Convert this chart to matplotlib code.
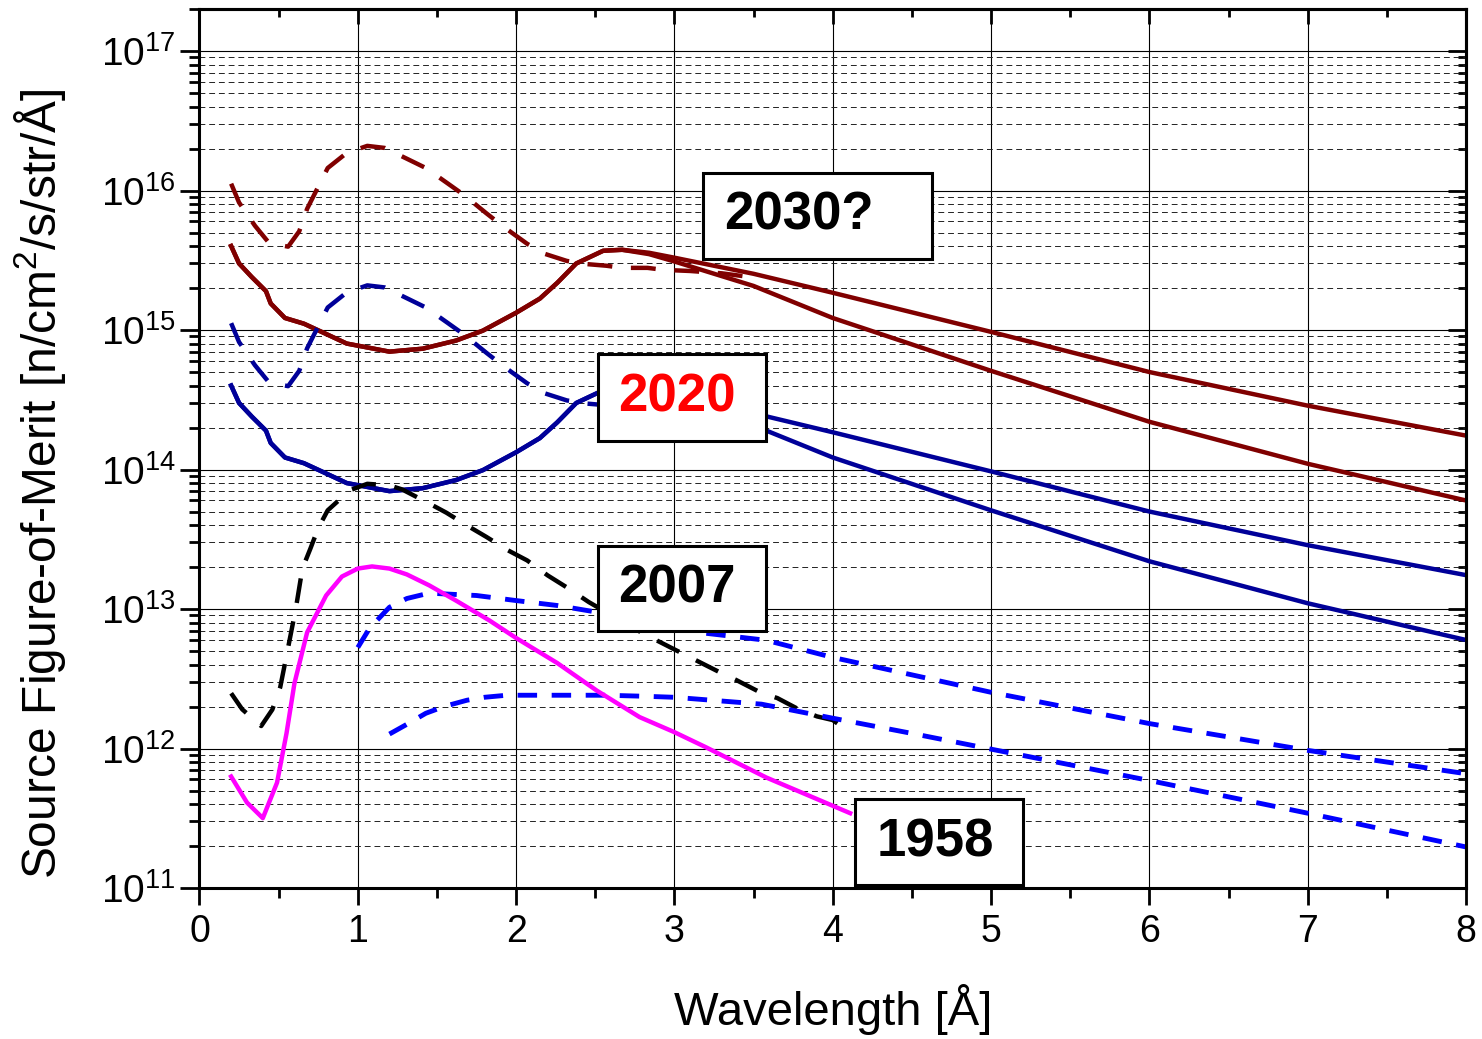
import numpy as np
import matplotlib
matplotlib.use("Agg")
import matplotlib.pyplot as plt
from matplotlib.patches import Rectangle
from matplotlib.ticker import LogLocator, LogFormatterMathtext, MultipleLocator, NullFormatter

plt.rcParams['font.family'] = ['Liberation Sans', 'DejaVu Sans']
plt.rcParams['mathtext.default'] = 'regular'

# --- 2030? : two solid moderator curves sharing the short-wavelength part, plus dashed cold peak
x_2030_up = [0.2, 0.25, 0.33, 0.42, 0.45, 0.54, 0.66, 0.78, 0.93, 1.2, 1.41, 1.62, 1.79, 2.0, 2.15,
             2.26, 2.38, 2.55, 2.67, 2.84, 3.0, 3.5, 4.0, 5.0, 6.0, 7.0, 8.0]
y_2030_up = [4.0e15, 3.0e15, 2.4e15, 1.9e15, 1.55e15, 1.22e15, 1.11e15, 9.6e14, 8.0e14, 7.0e14, 7.35e14,
             8.4e14, 9.9e14, 1.33e15, 1.68e15, 2.18e15, 3.0e15, 3.7e15, 3.76e15, 3.58e15, 3.3e15,
             2.53e15, 1.85e15, 9.7e14, 5.0e14, 2.87e14, 1.75e14]
x_2030_lo = [0.2, 0.25, 0.33, 0.42, 0.45, 0.54, 0.66, 0.78, 0.93, 1.2, 1.41, 1.62, 1.79, 2.0, 2.15,
             2.26, 2.38, 2.55, 2.67, 2.84, 3.0, 3.5, 4.0, 5.0, 6.0, 7.0, 8.0]
y_2030_lo = [4.0e15, 3.0e15, 2.4e15, 1.9e15, 1.55e15, 1.22e15, 1.11e15, 9.6e14, 8.0e14, 7.0e14, 7.35e14,
             8.4e14, 9.9e14, 1.33e15, 1.68e15, 2.18e15, 3.0e15, 3.7e15, 3.76e15, 3.5e15, 3.1e15,
             2.07e15, 1.22e15, 5.1e14, 2.2e14, 1.1e14, 6.0e13]
x_2030_cold = [0.2, 0.25, 0.35, 0.44, 0.56, 0.63, 0.68, 0.74, 0.81, 0.93, 1.06, 1.17, 1.31, 1.43, 1.57,
               1.67, 1.81, 1.93, 2.07, 2.18, 2.32, 2.43, 2.57, 2.67, 2.83, 2.93, 3.1, 3.3, 3.45]
y_2030_cold = [1.12e16, 8.2e15, 5.6e15, 4.2e15, 3.96e15, 5.1e15, 7.4e15, 1.01e16, 1.45e16, 1.86e16,
               2.09e16, 2.02e16, 1.69e16, 1.45e16, 1.12e16, 9.3e15, 6.9e15, 5.4e15, 4.15e15, 3.52e15,
               3.13e15, 2.98e15, 2.89e15, 2.79e15, 2.79e15, 2.7e15, 2.65e15, 2.55e15, 2.42e15]

# --- 2020
x_2020_up = [0.2, 0.25, 0.33, 0.42, 0.45, 0.54, 0.66, 0.78, 0.93, 1.2, 1.41, 1.62, 1.79, 2.0, 2.15,
             2.26, 2.38, 2.55, 2.67, 2.84, 3.0, 3.5, 4.0, 5.0, 6.0, 7.0, 8.0]
y_2020_up = [4.0e14, 3.0e14, 2.4e14, 1.9e14, 1.55e14, 1.22e14, 1.11e14, 9.6e13, 8.0e13, 7.0e13, 7.35e13,
             8.4e13, 9.9e13, 1.33e14, 1.68e14, 2.18e14, 3.0e14, 3.7e14, 3.76e14, 3.58e14, 3.3e14,
             2.53e14, 1.85e14, 9.7e13, 5.0e13, 2.87e13, 1.75e13]
x_2020_lo = [0.2, 0.25, 0.33, 0.42, 0.45, 0.54, 0.66, 0.78, 0.93, 1.2, 1.41, 1.62, 1.79, 2.0, 2.15,
             2.26, 2.38, 2.55, 2.67, 2.84, 3.0, 3.5, 4.0, 5.0, 6.0, 7.0, 8.0]
y_2020_lo = [4.0e14, 3.0e14, 2.4e14, 1.9e14, 1.55e14, 1.22e14, 1.11e14, 9.6e13, 8.0e13, 7.0e13, 7.35e13,
             8.4e13, 9.9e13, 1.33e14, 1.68e14, 2.18e14, 3.0e14, 3.7e14, 3.76e14, 3.5e14, 3.1e14,
             2.07e14, 1.22e14, 5.1e13, 2.2e13, 1.1e13, 6.0e12]
x_2020_cold = [0.2, 0.25, 0.35, 0.44, 0.56, 0.63, 0.68, 0.74, 0.81, 0.93, 1.06, 1.17, 1.31, 1.43, 1.57,
               1.67, 1.81, 1.93, 2.07, 2.18, 2.32, 2.43, 2.57, 2.67, 2.83, 2.93, 3.1, 3.3, 3.45]
y_2020_cold = [1.12e15, 8.2e14, 5.6e14, 4.2e14, 3.96e14, 5.1e14, 7.4e14, 1.01e15, 1.45e15, 1.86e15,
               2.09e15, 2.02e15, 1.69e15, 1.45e15, 1.12e15, 9.3e14, 6.9e14, 5.4e14, 4.15e14, 3.52e14,
               3.13e14, 2.98e14, 2.89e14, 2.79e14, 2.79e14, 2.7e14, 2.65e14, 2.55e14, 2.42e14]

# --- 2007
x_2007_cold = [0.2, 0.27, 0.39, 0.46, 0.51, 0.56, 0.61, 0.65, 0.70, 0.75, 0.81, 0.95, 1.06, 1.2, 1.28,
               1.44, 1.56, 1.69, 1.81, 1.95, 2.07, 2.2, 2.32, 2.46, 2.8, 3.02, 3.14, 3.28, 3.39, 3.55,
               3.65, 3.77, 3.9, 4.0, 4.11]
y_2007_cold = [2.49e12, 1.91e12, 1.45e12, 1.9e12, 2.75e12, 5.3e12, 1.03e13, 1.95e13, 2.7e13, 3.8e13,
               5.1e13, 7.1e13, 7.9e13, 7.7e13, 7.2e13, 5.8e13, 4.9e13, 3.97e13, 3.3e13, 2.63e13, 2.23e13,
               1.74e13, 1.43e13, 1.12e13, 6.7e12, 5.0e12, 4.27e12, 3.55e12, 3.1e12, 2.5e12, 2.3e12,
               1.95e12, 1.7e12, 1.6e12, 1.3e12]
x_2007_a = [1.0, 1.075, 1.2, 1.31, 1.45, 1.75, 2.0, 2.26, 2.51, 3.2, 3.58, 4.0, 5.0, 6.0, 7.0, 8.0]
y_2007_a = [5.3e12, 7.3e12, 1.03e13, 1.19e13, 1.3e13, 1.25e13, 1.15e13, 1.06e13, 9.5e12, 6.7e12, 5.97e12,
            4.5e12, 2.53e12, 1.51e12, 9.7e11, 6.6e11]
x_2007_b = [1.2, 1.3, 1.43, 1.55, 1.69, 1.8, 1.94, 2.07, 2.57, 2.81, 3.0, 3.55, 4.0, 4.49, 5.0, 6.0,
            7.0, 8.0]
y_2007_b = [1.27e12, 1.47e12, 1.79e12, 2.01e12, 2.22e12, 2.33e12, 2.41e12, 2.41e12, 2.41e12, 2.37e12,
            2.33e12, 2.08e12, 1.65e12, 1.29e12, 9.9e11, 5.9e11, 3.44e11, 1.97e11]

# --- 1958
x_1958 = [0.2, 0.3, 0.4, 0.49, 0.55, 0.6, 0.68, 0.8, 0.9, 1.0, 1.09, 1.2, 1.31, 1.45, 1.62, 1.83, 2.0,
          2.26, 2.51, 2.78, 3.0, 3.2, 3.58, 4.11]
y_1958 = [6.3e11, 4.1e11, 3.17e11, 5.7e11, 1.29e12, 2.94e12, 6.8e12, 1.25e13, 1.71e13, 1.95e13, 2.02e13,
          1.95e13, 1.77e13, 1.48e13, 1.15e13, 8.3e12, 6.2e12, 4.1e12, 2.6e12, 1.68e12, 1.31e12, 1.02e12,
          6.2e11, 3.44e11]

# year labels: text, colour, box (x0, y0, x1, y1) and text centre, in axes fraction
year_labels = ["2030?", "2020", "2007", "1958"]
year_colors = ["black", "red", "black", "black"]
year_boxes = [(0.3976, 0.7156, 0.5784, 0.8134), (0.3147, 0.5085, 0.4473, 0.6075),
              (0.3147, 0.2924, 0.4473, 0.3891), (0.5176, 0.0034, 0.6502, 0.1013)]
year_text_pos = [(0.4734, 0.7656), (0.377, 0.558), (0.377, 0.3413), (0.5807, 0.0523)]

DARKRED = "#800000"
NAVY = "#000099"
BLUE = "#0000FF"
MAGENTA = "#FF00FF"

fig = plt.figure(figsize=(14.82, 10.39), dpi=100)
ax = fig.add_axes([0.1346, 0.1453, 0.8546, 0.8460])
ax.set_yscale("log")
ax.set_xlim(0, 8)
ax.set_ylim(1e11, 2e17)

lw = 3.2
dash = (5.6, 4.2)
ax.plot(x_2030_up, y_2030_up, color=DARKRED, lw=lw, solid_joinstyle="round")
ax.plot(x_2030_lo, y_2030_lo, color=DARKRED, lw=lw, solid_joinstyle="round")
ax.plot(x_2030_cold, y_2030_cold, color=DARKRED, lw=lw, dashes=dash)
ax.plot(x_2020_up, y_2020_up, color=NAVY, lw=lw, solid_joinstyle="round")
ax.plot(x_2020_lo, y_2020_lo, color=NAVY, lw=lw, solid_joinstyle="round")
ax.plot(x_2020_cold, y_2020_cold, color=NAVY, lw=lw, dashes=dash)
ax.plot(x_2007_cold, y_2007_cold, color="black", lw=lw, dashes=dash)
ax.plot(x_2007_a, y_2007_a, color=BLUE, lw=3.5, dashes=(4.0, 3.0))
ax.plot(x_2007_b, y_2007_b, color=BLUE, lw=3.5, dashes=(4.0, 3.0))
ax.plot(x_1958, y_1958, color=MAGENTA, lw=lw, solid_joinstyle="round")

# grid: solid at decades and integer wavelengths, dashed at minor decades
ax.grid(which="major", color="black", lw=0.8, ls="-", zorder=0)
ax.grid(which="minor", axis="y", color="#222222", lw=0.7, ls=(0, (6, 4)), zorder=0)
ax.set_axisbelow(True)

ax.xaxis.set_major_locator(MultipleLocator(1))
ax.xaxis.set_minor_locator(MultipleLocator(0.5))
ax.yaxis.set_major_locator(LogLocator(base=10, numticks=20))
ax.yaxis.set_minor_locator(LogLocator(base=10, subs=np.arange(2, 10), numticks=100))
ax.yaxis.set_major_formatter(LogFormatterMathtext())
ax.yaxis.set_minor_formatter(NullFormatter())

for s in ax.spines.values():
    s.set_linewidth(2.2)

ax.tick_params(axis="x", which="major", direction="out", length=12, width=2, labelsize=27, pad=7)
ax.tick_params(axis="x", which="minor", direction="out", length=7, width=2)
ax.tick_params(axis="y", which="major", direction="out", length=14, width=2, labelsize=28, pad=3)
ax.tick_params(axis="y", which="minor", direction="out", length=7, width=2)

# mirrored ticks pointing inward on top and right
top = ax.secondary_xaxis("top")
top.xaxis.set_major_locator(MultipleLocator(1))
top.xaxis.set_minor_locator(MultipleLocator(0.5))
top.tick_params(which="major", direction="in", length=11, width=2, labeltop=False)
top.tick_params(which="minor", direction="in", length=6, width=2)
right = ax.secondary_yaxis("right")
right.yaxis.set_major_locator(LogLocator(base=10, numticks=20))
right.yaxis.set_minor_locator(LogLocator(base=10, subs=np.arange(2, 10), numticks=100))
right.tick_params(which="major", direction="in", length=13, width=2, labelright=False)
right.tick_params(which="minor", direction="in", length=6, width=2)
right.yaxis.set_minor_formatter(NullFormatter())
for sec in (top, right):
    for s in sec.spines.values():
        s.set_linewidth(2.2)

ax.set_xlabel("Wavelength [Å]", fontsize=34, labelpad=24)
ax.set_ylabel("Source Figure-of-Merit [n/cm$^2$/s/str/Å]", fontsize=34.5)
ax.yaxis.set_label_coords(-0.104, 0.46)

for label, color, (x0, y0, x1, y1), (tx, ty) in zip(year_labels, year_colors, year_boxes, year_text_pos):
    ax.add_patch(Rectangle((x0, y0), x1 - x0, y1 - y0, transform=ax.transAxes,
                           facecolor="white", edgecolor="black", lw=2.2, zorder=5))
    ax.text(tx, ty, label, transform=ax.transAxes, ha="center", va="center",
            fontsize=38, fontweight="bold", color=color, zorder=6)

fig.savefig("out.png", dpi=100)
